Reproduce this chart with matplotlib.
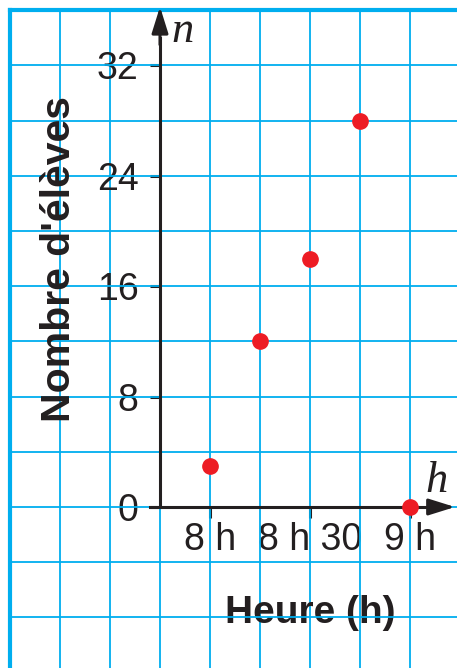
import matplotlib.pyplot as plt
from matplotlib.ticker import MultipleLocator

# pupils arriving, time given in minutes after 8 h
minutes = [0, 15, 30, 45, 60]
eleves = [3, 12, 18, 28, 0]

y_ticks = [0, 8, 16, 24, 32]
x_ticks = [0, 30, 60]
x_labels = ['8 h', '8 h 30', '9 h']

GRID = '#00aeef'
INK = '#231f20'
RED = '#ed1c24'

# page geometry (pixels) so the squared paper lines up with the data
W, H = 457, 668
px_x = 100 / 30      # pixels per minute
px_y = 55.2 / 4      # pixels per pupil
x0_px, y0_px = 210, 507
left_px = 10
top_px = y0_px - 36 * px_y

fig = plt.figure(figsize=(W / 100, H / 100), dpi=100)
ax = fig.add_axes([left_px / W, 0, (W - left_px) / W, (H - top_px) / H])
ax.set_xlim((left_px - x0_px) / px_x, (W - x0_px) / px_x)
ax.set_ylim(-(H - y0_px) / px_y, 36)

# squared paper
ax.xaxis.set_minor_locator(MultipleLocator(15))
ax.yaxis.set_minor_locator(MultipleLocator(4))
ax.xaxis.remove_overlapping_locs = False
ax.yaxis.remove_overlapping_locs = False
ax.grid(which='minor', color=GRID, lw=1.3)
ax.tick_params(which='minor', length=0)
ax.set_axisbelow(True)
ax.axvline(ax.get_xlim()[0], color=GRID, lw=3, clip_on=False)
ax.spines['top'].set_color(GRID)
ax.spines['top'].set_linewidth(3)
ax.spines['right'].set_visible(False)

# axes through the origin
ax.spines['left'].set_position(('data', -15))
ax.spines['bottom'].set_position(('data', 0))
ax.spines['left'].set_bounds(0, 34)
ax.spines['bottom'].set_bounds(-18, 70)
for s in ['left', 'bottom']:
    ax.spines[s].set_color(INK)
    ax.spines[s].set_linewidth(2.2)

head = '-|>,head_length=0.8,head_width=0.25'
ax.annotate('', xy=(-15, 36.25), xytext=(-15, 33.5),
            arrowprops=dict(arrowstyle=head, mutation_scale=20, color=INK,
                            lw=2.2, shrinkA=0, shrinkB=0),
            annotation_clip=False)
ax.annotate('', xy=(73.5, 0), xytext=(68, 0),
            arrowprops=dict(arrowstyle=head, mutation_scale=20, color=INK,
                            lw=2.2, shrinkA=0, shrinkB=0),
            annotation_clip=False)

ax.set_yticks(y_ticks)
ax.set_xticks(x_ticks, x_labels)
ax.tick_params(which='major', direction='out', width=2.2, color=INK,
               labelcolor=INK, labelsize=27)
ax.tick_params(axis='y', which='major', length=7.5, pad=8)
ax.tick_params(axis='x', which='major', length=8, pad=3)
for lab in ax.get_xticklabels() + ax.get_yticklabels():
    lab.set_family(['Liberation Sans Narrow', 'Liberation Sans'])

ax.plot(minutes, eleves, 'o', ms=11, color=RED, ls='none', zorder=5,
        clip_on=False)

ax.set_ylabel("Nombre d'élèves", fontsize=29.5, fontweight='bold',
              family='Liberation Sans', color=INK, ha='center', va='baseline')
ax.yaxis.set_label_coords(-42, 17.97, transform=ax.transData)
ax.set_xlabel('Heure (h)', fontsize=28, fontweight='bold',
              family='Liberation Sans', color=INK, ha='center', va='baseline')
ax.xaxis.set_label_coords(30, -8.41, transform=ax.transData)

ax.text(-8.1, 33.7, 'n', fontsize=32, style='italic', family='Liberation Serif',
        color=INK, ha='center', va='baseline')
ax.text(68.1, 1.09, 'h', fontsize=32, style='italic', family='Liberation Serif',
        color=INK, ha='center', va='baseline')

fig.savefig('out.png', dpi=100)
